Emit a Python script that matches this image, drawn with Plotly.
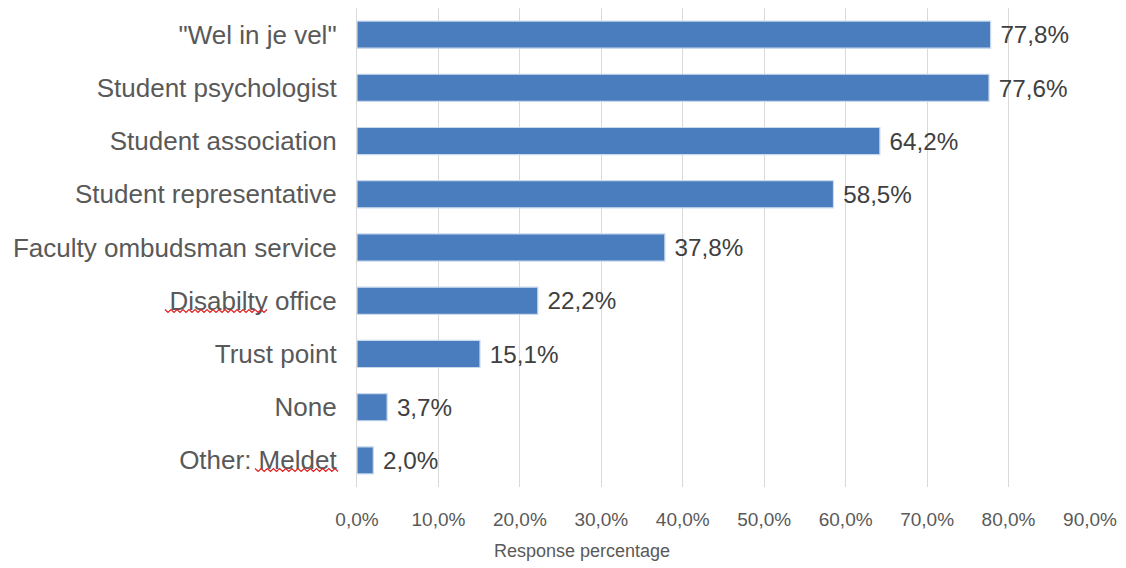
import plotly.graph_objects as go

categories = ['"Wel in je vel"', "Student psychologist", "Student association",
              "Student representative", "Faculty ombudsman service", "Disabilty office",
              "Trust point", "None", "Other: Meldet"]
values = [77.8, 77.6, 64.2, 58.5, 37.8, 22.2, 15.1, 3.7, 2.0]
tick_vals = [0, 10, 20, 30, 40, 50, 60, 70, 80, 90]
tick_text = [f"{v:.1f}%".replace(".", ",") for v in tick_vals]

OFF = 8  # default page body margin
W, H = 1126 - OFF, 568 - OFF
L, R, T, B = 357 - OFF, 36, 0, 81
pw, ph = W - L - R, H - T - B

def px_x(x):
    return (x - OFF - L) / pw

def px_y(y):
    return (H - B - (y - OFF)) / ph

fig = go.Figure()
fig.add_trace(go.Bar(
    y=categories, x=values, orientation="h",
    marker=dict(color="#4a7dbd", line=dict(color="#c9d9ee", width=1.2)),
    text=values, texttemplate=" %{x:.1f}%", textposition="outside",
    textfont=dict(family="Liberation Sans, Arial", size=25, color="#404040"),
    cliponaxis=False,
))

# red spell-check squiggles under misspelled words (decoration from the screenshot)
def squiggle(x0, x1, y):
    n = int((x1 - x0) / 3)
    pts = []
    for i in range(n + 1):
        xx = x0 + i * (x1 - x0) / n
        yy = y + (1.5 if i % 2 else -1.5)
        pts.append((px_x(xx), px_y(yy)))
    path = "M " + " L ".join(f"{a:.5f},{b:.5f}" for a, b in pts)
    fig.add_shape(type="path", path=path, xref="paper", yref="paper",
                  line=dict(color="#e02020", width=1.2))

squiggle(165, 267, 311)
squiggle(255, 338, 470)

fig.add_annotation(text="Response percentage", xref="paper", yref="paper",
                   x=px_x(582), y=px_y(551), showarrow=False,
                   xanchor="center", yanchor="middle",
                   font=dict(family="Liberation Sans, Arial", size=18, color="#595959"))

fig.update_layout(
    width=W, height=H,
    margin=dict(l=L, r=R, t=T, b=B),
    paper_bgcolor="white", plot_bgcolor="white",
    separators=",.",
    bargap=0.49,
    showlegend=False,
    font=dict(family="Liberation Sans, Arial", color="#595959"),
)
fig.update_xaxes(
    range=[0, 90], tickmode="array", tickvals=tick_vals, ticktext=tick_text,
    showgrid=True, gridcolor="#d9d9d9", gridwidth=1.3,
    zeroline=False, showline=False, automargin=False,
    tickfont=dict(family="Liberation Sans, Arial", size=19, color="#595959"),
    ticklabelstandoff=19,
)
fig.update_yaxes(
    autorange="reversed", showgrid=False, automargin=False,
    showline=True, linecolor="#d9d9d9", linewidth=1.3,
    tickfont=dict(family="Liberation Sans, Arial", size=26, color="#595959"),
    ticklabelstandoff=14,
)
fig.write_html("out.html")
